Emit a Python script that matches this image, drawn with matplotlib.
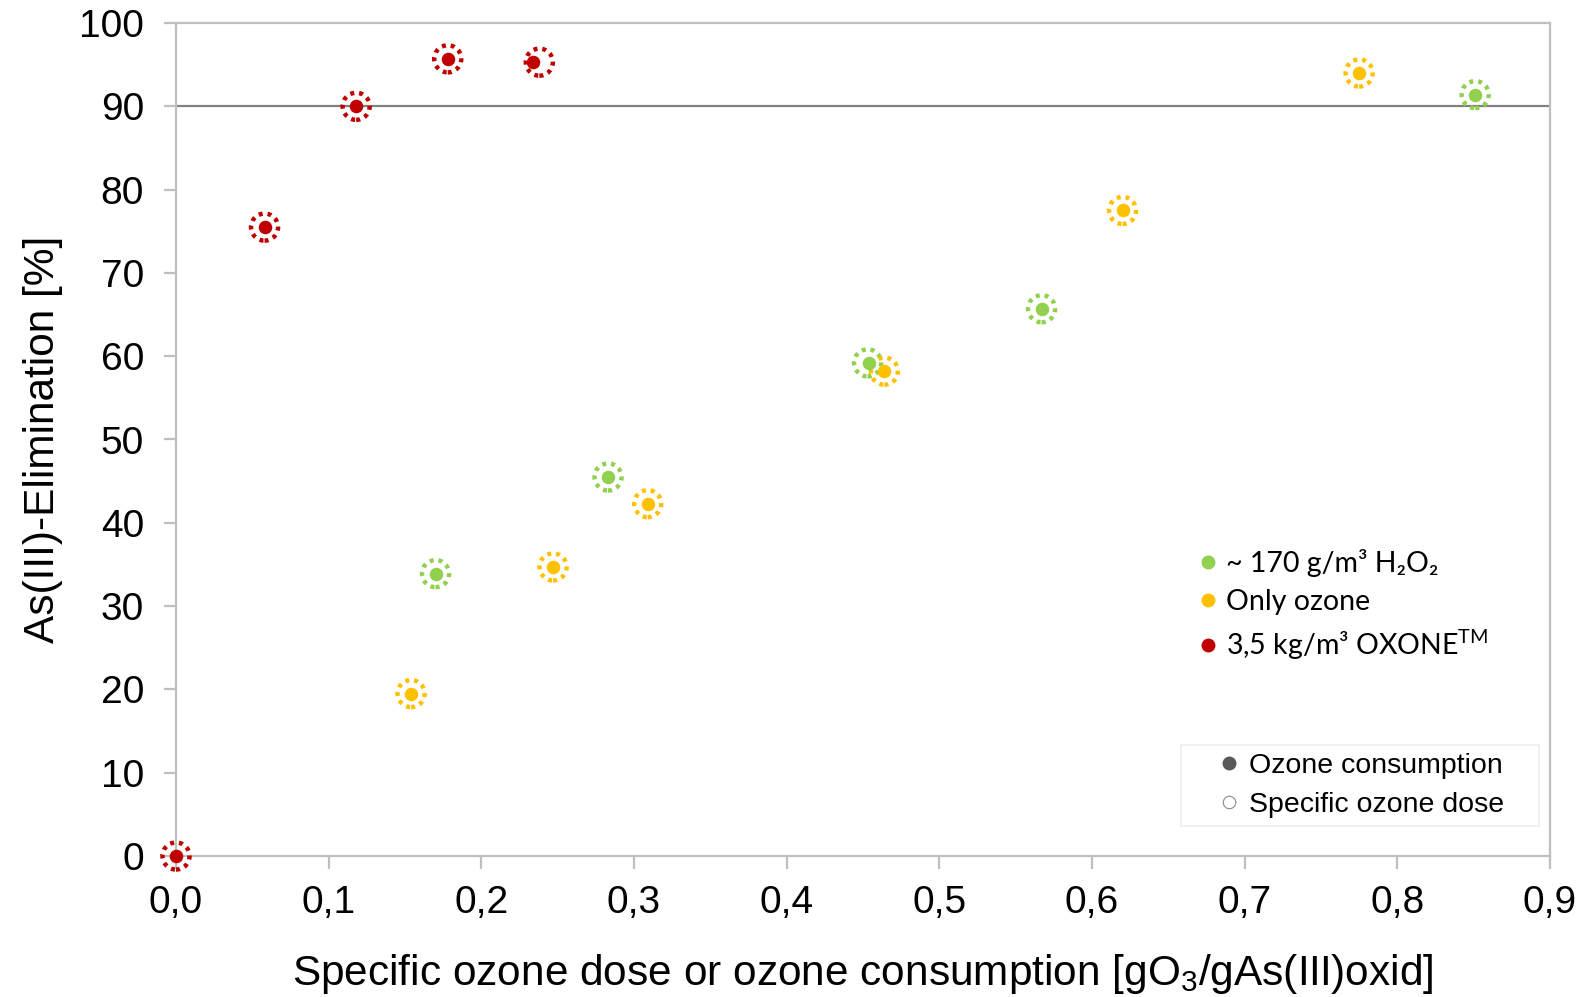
import matplotlib
matplotlib.use("Agg")
import matplotlib.pyplot as plt
from matplotlib.lines import Line2D
from matplotlib.patches import Rectangle
from matplotlib.ticker import FuncFormatter, MultipleLocator

plt.rcParams['font.family'] = ['Liberation Sans', 'DejaVu Sans']
plt.rcParams['mathtext.fontset'] = 'custom'
plt.rcParams['mathtext.rm'] = 'Liberation Sans'
plt.rcParams['mathtext.sf'] = 'Lato'
plt.rcParams['mathtext.default'] = 'regular'

# series: specific ozone dose (dotted ring) / ozone consumption (filled dot)
names = ['~ 170 g/m³ H₂O₂', 'Only ozone', r'3,5 kg/m³ OXONE$^{\mathsf{TM}}$']
colors = ['#92D050', '#FFC000', '#C00000']

green_dose = [0.170, 0.283, 0.453, 0.567, 0.851]
green_cons = [0.170, 0.283, 0.454, 0.567, 0.851]
green_y = [33.9, 45.5, 59.2, 65.7, 91.4]

orange_dose = [0.154, 0.247, 0.309, 0.464, 0.620, 0.775]
orange_cons = [0.154, 0.247, 0.309, 0.464, 0.620, 0.775]
orange_y = [19.5, 34.7, 42.3, 58.2, 77.5, 94.0]

red_dose = [0.0, 0.058, 0.118, 0.178, 0.238]
red_cons = [0.0, 0.058, 0.118, 0.178, 0.234]
red_y = [0.0, 75.5, 90.0, 95.7, 95.3]

series = [(green_dose, green_cons, green_y),
          (orange_dose, orange_cons, orange_y),
          (red_dose, red_cons, red_y)]

target = 90

fig = plt.figure(figsize=(15.8, 9.97), dpi=100)
ax = fig.add_axes([176/1580, 1-856/997, (1550-176)/1580, (856-23)/997])

ax.axhline(target, color='#808080', lw=1.6, zorder=1)

for (xd, xc, y), c in zip(series, colors):
    ax.scatter(xd, y, s=380, facecolors='none', edgecolors=c, linewidths=3.2,
               linestyle=(0, (0.9, 1.1)), zorder=3, clip_on=False)
    ax.scatter(xc, y, s=95, color=c, zorder=4, clip_on=False, linewidths=0)

ax.set_xlim(0, 0.9)
ax.set_ylim(0, 100)
ax.xaxis.set_major_locator(MultipleLocator(0.1))
ax.yaxis.set_major_locator(MultipleLocator(10))
ax.xaxis.set_major_formatter(FuncFormatter(lambda v, p: f'{v:.1f}'.replace('.', ',')))
ax.yaxis.set_major_formatter(FuncFormatter(lambda v, p: f'{v:.0f}'))
for s in ax.spines.values():
    s.set_color('#BFBFBF')
    s.set_linewidth(1.6)
ax.tick_params(axis='both', colors='#BFBFBF', length=9, width=1.6,
               labelsize=28, labelcolor='black', direction='out')
ax.tick_params(axis='x', pad=12)
ax.tick_params(axis='y', pad=14)

ax.set_xlabel('Specific ozone dose or ozone consumption [gO$_3$/gAs(III)oxid]',
              fontsize=30.5, labelpad=22)
ax.set_ylabel('As(III)-Elimination [%]', fontsize=30.5, labelpad=12)

h1 = [Line2D([], [], ls='none', marker='o', ms=9, mfc=c, mec=c) for c in colors]
leg1 = ax.legend(h1, names, loc='upper left', bbox_to_anchor=(1192/1580, 1-549/997),
                 bbox_transform=fig.transFigure, frameon=False,
                 prop={'family': ['Lato', 'DejaVu Sans'], 'size': 20.5},
                 handletextpad=0.1, handlelength=1.1, labelspacing=0.43,
                 borderaxespad=0, borderpad=0)
ax.add_artist(leg1)

# box of the second legend
ax.add_patch(Rectangle((1181/1580, 1-826/997), (1539-1181)/1580, (826-745)/997,
                       transform=fig.transFigure, facecolor='white', clip_on=False,
                       edgecolor='#EDEDED', lw=1.2, zorder=5))

h2 = [Line2D([], [], ls='none', marker='o', ms=9, mfc='#595959', mec='#595959'),
      Line2D([], [], ls='none', marker='o', ms=9, mfc='none', mec='#8C8C8C', mew=0.8)]
leg2 = ax.legend(h2, ['Ozone consumption', 'Specific ozone dose'], loc='upper left',
                 bbox_to_anchor=(1215/1580, 1-753/997), bbox_transform=fig.transFigure,
                 frameon=False, prop={'family': ['Liberation Sans'], 'size': 20.5},
                 handletextpad=0.2, handlelength=1.0, labelspacing=0.44,
                 borderaxespad=0, borderpad=0)
leg2.set_zorder(6)

fig.savefig('out.png', dpi=100, facecolor='white')
